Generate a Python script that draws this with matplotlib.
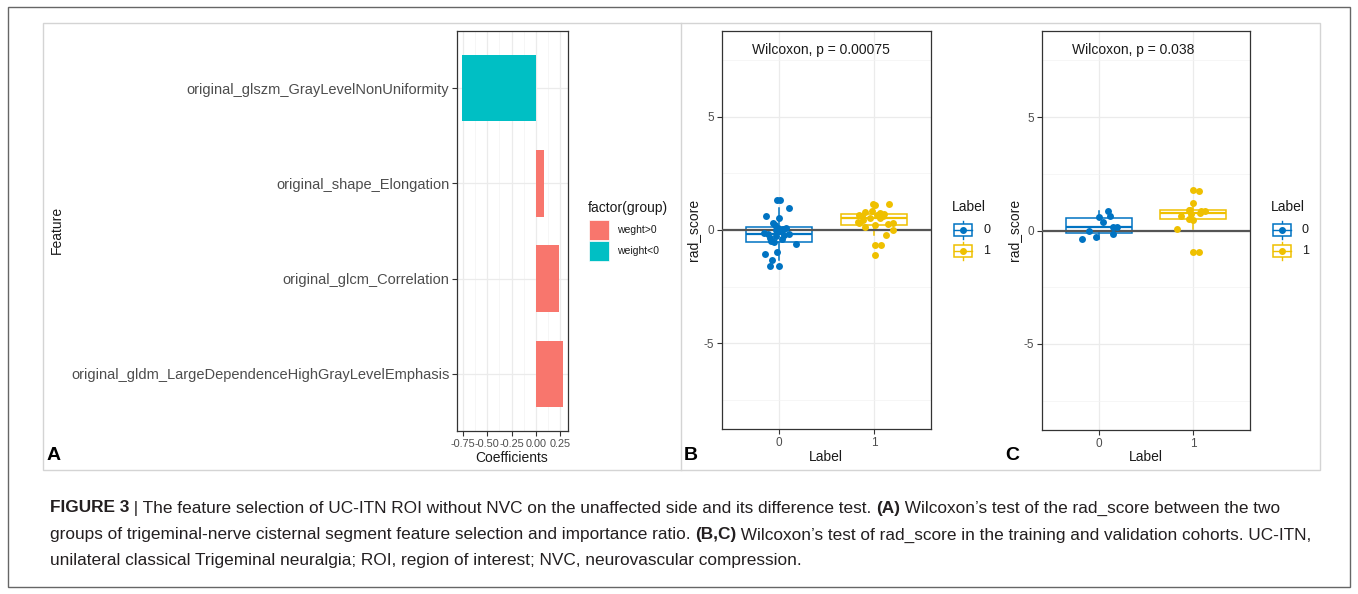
import numpy as np
import matplotlib
matplotlib.use("Agg")
from matplotlib import pyplot as plt
from matplotlib.patches import Rectangle

plt.rcParams['font.family'] = ['Liberation Sans', 'DejaVu Sans']

W, H, DPI = 1358, 594, 100

# ---- panel A data ----
features = ['original_glszm_GrayLevelNonUniformity',
            'original_shape_Elongation',
            'original_glcm_Correlation',
            'original_gldm_LargeDependenceHighGrayLevelEmphasis']
coefs = [-0.757, 0.082, 0.239, 0.276]
groups = ['weight<0', 'weght>0', 'weght>0', 'weght>0']
group_names = ['weght>0', 'weight<0']
group_colors = {'weght>0': '#F8766D', 'weight<0': '#00BFC4'}
coef_ticks = [-0.75, -0.50, -0.25, 0.00, 0.25]

# ---- panels B/C data (rad_score by Label, with jitter) ----
train0 = [-1.59, -1.59, -1.34, -1.08, -0.96, -0.63, -0.55, -0.50, -0.42, -0.37,
          -0.27, -0.22, -0.19, -0.19, -0.13, -0.05, -0.01, 0.02, 0.05, 0.07,
          0.10, 0.21, 0.32, 0.55, 0.60, 0.96, 1.31, 1.31]
train0_jit = [-0.09, 0.00, -0.07, -0.15, -0.02, 0.18, -0.05, -0.08, 0.03, -0.09,
              -0.03, 0.05, -0.12, 0.10, -0.16, 0.02, 0.00, -0.03, 0.04, 0.07,
              -0.01, -0.04, -0.06, 0.00, -0.14, 0.11, -0.02, 0.01]
train1 = [-1.12, -0.68, -0.68, -0.24, 0.00, 0.13, 0.21, 0.25, 0.32, 0.32,
          0.35, 0.45, 0.52, 0.55, 0.62, 0.62, 0.65, 0.68, 0.72, 0.74,
          0.78, 0.84, 1.11, 1.17, 1.17]
train1_jit = [0.01, 0.01, 0.07, 0.13, 0.20, -0.09, 0.01, 0.15, -0.16, 0.20,
              -0.17, -0.12, -0.04, 0.06, -0.13, 0.09, -0.16, 0.03, 0.10, 0.06,
              -0.10, -0.02, 0.01, -0.01, 0.16]
valid0 = [-0.38, -0.29, -0.14, 0.00, 0.16, 0.16, 0.38, 0.60, 0.64, 0.84]
valid0_jit = [-0.18, -0.03, 0.15, -0.10, 0.15, 0.19, 0.05, 0.00, 0.12, 0.10]
valid1 = [-0.95, -0.95, 0.05, 0.46, 0.52, 0.64, 0.74, 0.76, 0.86, 0.86,
          0.90, 0.90, 1.20, 1.75, 1.77]
valid1_jit = [0.00, 0.06, -0.17, 0.00, -0.05, -0.13, -0.02, 0.07, 0.12, 0.08,
              -0.05, -0.03, 0.00, 0.06, 0.00]
label_levels = ['0', '1']
label_colors = ['#0073C2', '#EFC000']
p_train = 'Wilcoxon, p = 0.00075'
p_valid = 'Wilcoxon, p = 0.038'

caption = [
    [('FIGURE 3', True), (' | The feature selection of UC-ITN ROI without NVC on the unaffected side and its difference test. ', False),
     ('(A)', True), (' Wilcoxon\u2019s test of the rad_score between the two', False)],
    [('groups of trigeminal-nerve cisternal segment feature selection and importance ratio. ', False),
     ('(B,C)', True), (' Wilcoxon\u2019s test of rad_score in the training and validation cohorts. UC-ITN,', False)],
    [('unilateral classical Trigeminal neuralgia; ROI, region of interest; NVC, neurovascular compression.', False)],
]

fig = plt.figure(figsize=(W / DPI, H / DPI), dpi=DPI)
fig.patch.set_facecolor('white')


def px_axes(x0, y0, x1, y1):
    return fig.add_axes([x0 / W, 1 - y1 / H, (x1 - x0) / W, (y1 - y0) / H])


def style_bw(ax):
    for s in ax.spines.values():
        s.set_color('#333333')
        s.set_linewidth(0.9)
    ax.grid(True, which='major', color='#ebebeb', linewidth=0.9)
    ax.grid(True, which='minor', color='#f3f3f3', linewidth=0.5)
    ax.set_axisbelow(True)
    ax.tick_params(which='major', color='#333333', length=3.5, width=0.8,
                   labelcolor='#4d4d4d', pad=2)
    ax.tick_params(which='minor', length=0)


# ---- panel A ----
axA = px_axes(457, 31, 568, 431)
ypos = np.arange(len(features))[::-1]
axA.barh(ypos, coefs, height=0.7, color=[group_colors[g] for g in groups], zorder=2)
span = max(coefs) - min(coefs)
axA.set_xlim(min(coefs) - 0.05 * span, max(coefs) + 0.05 * span)
axA.set_ylim(-0.6, len(features) - 0.4)
axA.set_xticks(coef_ticks)
axA.set_xticklabels(['%.2f' % t for t in coef_ticks], fontsize=7.8)
axA.set_xticks([-0.625, -0.375, -0.125, 0.125], minor=True)
axA.set_yticks(ypos)
axA.set_yticklabels(features, fontsize=10.5)
style_bw(axA)


# ---- panels B / C ----
def rad_panel(box, g0, j0, g1, j1, ptext):
    ax = px_axes(*box)
    for i, (vals, jit) in enumerate([(g0, j0), (g1, j1)]):
        col = label_colors[i]
        ax.boxplot([vals], positions=[i], widths=0.7, showfliers=False, showcaps=False,
                   patch_artist=True, zorder=2,
                   boxprops=dict(facecolor='white', edgecolor=col, linewidth=1.1),
                   medianprops=dict(color=col, linewidth=1.6),
                   whiskerprops=dict(color=col, linewidth=1.1))
        ax.scatter(i + np.array(jit), vals, s=25, color=col, linewidths=0, zorder=4)
    ax.axhline(0, color='#555555', linewidth=1.6, zorder=3)
    ax.set_xlim(-0.6, 1.6)
    ax.set_ylim(-8.8, 8.8)
    ax.set_xticks([0, 1])
    ax.set_xticklabels(label_levels, fontsize=8.5)
    ax.set_yticks([-5, 0, 5])
    ax.set_yticklabels(['-5', '0', '5'], fontsize=8.5)
    ax.set_yticks([-7.5, -2.5, 2.5, 7.5], minor=True)
    style_bw(ax)
    ax.text(-0.28, 7.95, ptext, fontsize=10, ha='left', va='center', color='#1a1a1a')
    return ax


axB = rad_panel((722, 31, 931, 429), train0, train0_jit, train1, train1_jit, p_train)
axC = rad_panel((1042, 31, 1250, 430), valid0, valid0_jit, valid1, valid1_jit, p_valid)

# ---- overlay in pixel coordinates: frames, legends, labels, caption ----
ov = fig.add_axes([0, 0, 1, 1])
ov.set_xlim(0, W)
ov.set_ylim(H, 0)
ov.axis('off')

ov.add_patch(Rectangle((8, 7), 1342, 580, fill=False, edgecolor='#666666', linewidth=1.0))
ov.add_patch(Rectangle((43, 23), 1277, 447, fill=False, edgecolor='#d4d4d4', linewidth=1.0))
ov.plot([681, 681], [23, 470], color='#d4d4d4', linewidth=1.0)

txt_kw = dict(color='#1a1a1a', va='center')
ov.text(57, 230, 'Feature', rotation=90, ha='center', fontsize=10, **txt_kw)
ov.text(512, 458, 'Coefficients', ha='center', fontsize=10, **txt_kw)
for x in (693, 1014):
    ov.text(x, 230, 'rad_score', rotation=90, ha='center', fontsize=10, **txt_kw)
for x in (826, 1146):
    ov.text(x, 457, 'Label', ha='center', fontsize=10, **txt_kw)
for x, letter in ((47, 'A'), (684, 'B'), (1005, 'C')):
    ov.text(x, 456, letter, ha='left', fontsize=14, fontweight='bold', color='black', va='center')

# legend A
ov.text(588, 208, 'factor(group)', ha='left', fontsize=10, **txt_kw)
for k, g in enumerate(group_names):
    y = 220 + 21 * k
    ov.add_patch(Rectangle((589, y), 20, 20, facecolor=group_colors[g], edgecolor='white', linewidth=0.5))
    ov.text(617, y + 10, g, ha='left', fontsize=7.5, **txt_kw)

# legends B, C
for kx, tx in ((963, 952), (1282, 1271)):
    ov.text(tx, 207, 'Label', ha='left', fontsize=10, **txt_kw)
    for k, lev in enumerate(label_levels):
        col = label_colors[k]
        yc = 230 + 21 * k
        ov.plot([kx, kx], [yc - 9, yc + 9], color=col, linewidth=1.0)
        ov.add_patch(Rectangle((kx - 9, yc - 6), 18, 12, facecolor='white', edgecolor=col, linewidth=1.1, zorder=3))
        ov.plot([kx - 9, kx + 9], [yc, yc], color=col, linewidth=1.0, zorder=4)
        ov.plot([kx], [yc], 'o', color=col, markersize=4, zorder=5)
        ov.text(kx + 20, yc, lev, ha='left', fontsize=9, **txt_kw)

# caption with mixed bold runs
renderer = fig.canvas.get_renderer()


def run_width(s, bold, size):
    t = ov.text(0, 0, 'X' + s + 'X', fontsize=size, fontweight='bold' if bold else 'normal')
    w = t.get_window_extent(renderer=renderer).width
    t.remove()
    t = ov.text(0, 0, 'XX', fontsize=size, fontweight='bold' if bold else 'normal')
    w -= t.get_window_extent(renderer=renderer).width
    t.remove()
    return w


base = 11.0
w1 = sum(run_width(s, b, base) for s, b in caption[0])
w2 = sum(run_width(s, b, base) for s, b in caption[1])
cap_size = base * 0.5 * (1243.0 / w1 + 1247.0 / w2)
for line, y in zip(caption, (508, 535, 561)):
    x = 50.0
    for s, b in line:
        ov.text(x, y, s, fontsize=cap_size, fontweight='bold' if b else 'normal',
                ha='left', va='center', color='#231f20')
        x += run_width(s, b, cap_size)

fig.savefig('out.png', dpi=DPI, facecolor='white')
